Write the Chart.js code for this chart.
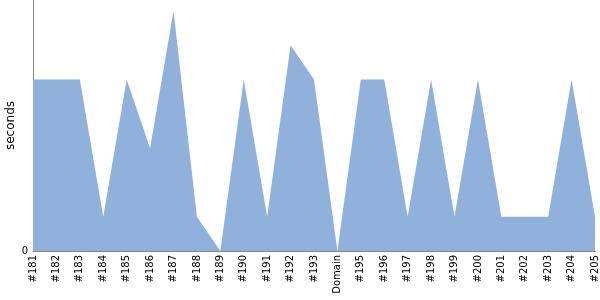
<!DOCTYPE html>
<html><head><meta charset="utf-8">
<script src="https://cdn.jsdelivr.net/npm/chart.js@4/dist/chart.umd.min.js"></script>
<style>html,body{margin:0;padding:0;background:#fff}</style>
</head><body>
<canvas id="c" width="600" height="300"></canvas>
<script>
const categories = ["#181","#182","#183","#184","#185","#186","#187","#188","#189","#190","#191","#192","#193","Domain","#195","#196","#197","#198","#199","#200","#201","#202","#203","#204","#205"];
const seconds = [5,5,5,1,5,3,7,1,0,5,1,6,5,0,5,5,1,5,1,5,1,1,1,5,1];
const yTicks = [0];

Chart.defaults.font.family = "'DejaVu Sans', Verdana, sans-serif";
new Chart(document.getElementById('c'), {
  type: 'line',
  data: { labels: categories, datasets: [{
    data: seconds, fill: 'origin', backgroundColor: 'rgb(143,177,219)',
    borderWidth: 0, borderColor: 'rgba(0,0,0,0)', pointRadius: 0, tension: 0
  }]},
  options: {
    responsive: false, animation: false,
    plugins: { legend: { display: false }, tooltip: { enabled: false } },
    layout: { padding: { top: 0, right: 5, left: 0, bottom: 0 } },
    scales: {
      x: {
        offset: false,
        grid: { display: false, drawTicks: true, tickLength: 4 },
        border: { display: true, color: '#888' },
        ticks: { maxRotation: 90, minRotation: 90, autoSkip: false, color: '#000', font: { size: 10 }, padding: 0 },
        afterFit: s => { s.height = 49; s.paddingLeft = 0; s.paddingRight = 0; }
      },
      y: {
        min: 0, max: 7.32,
        grid: { display: false, drawTicks: true, tickLength: 4 },
        border: { display: true, color: '#888' },
        afterBuildTicks: s => { s.ticks = yTicks.map(v => ({ value: v })); },
        ticks: { color: '#000', font: { size: 10 }, padding: 1 },
        title: { display: true, text: 'seconds', color: '#000', font: { size: 12 }, padding: { top: 4, bottom: 0 } },
        afterFit: s => { s.width = 33; s.paddingTop = 0; s.paddingBottom = 0; }
      }
    }
  }
});
</script>
</body></html>
